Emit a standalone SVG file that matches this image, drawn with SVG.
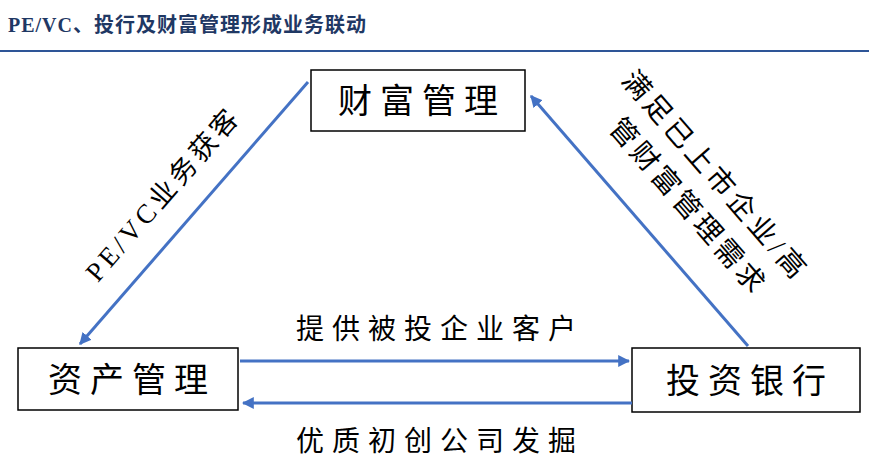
<svg xmlns="http://www.w3.org/2000/svg" width="869" height="471" viewBox="0 0 869 471">
<style>
.t{font-family:"Liberation Serif","Noto Sans CJK SC",serif;fill:#000}
.box{fill:#fff;stroke:#000;stroke-width:1.5}
.c{stroke:#4472C4;stroke-width:3;fill:none;marker-end:url(#a)}
</style>
<defs><marker id="a" viewBox="0 0 10 10" refX="9" refY="5" markerWidth="4" markerHeight="4" orient="auto"><path d="M0,0L10,5L0,10z" fill="#4472C4"/></marker></defs>
<rect width="869" height="471" fill="#fff"/>
<text x="8" y="32" class="t" style="font-size:20px;font-weight:bold;fill:#1F3864;letter-spacing:1px">PE/VC、投行及财富管理形成业务联动</text>
<line x1="0" y1="51" x2="869" y2="51" stroke="#2E5597" stroke-width="2"/>
<g id="n1"><rect class="box" x="311" y="70" width="214" height="61"/><text class="t" x="422" y="113" text-anchor="middle" font-size="34" letter-spacing="8">财富管理</text></g>
<g id="n2"><rect class="box" x="18" y="348" width="220" height="62"/><text class="t" x="132" y="392" text-anchor="middle" font-size="34" letter-spacing="8">资产管理</text></g>
<g id="n3"><rect class="box" x="632" y="348" width="228" height="64"/><text class="t" x="750" y="393" text-anchor="middle" font-size="34" letter-spacing="8">投资银行</text></g>
<g id="connectors">
<line class="c" x1="308" y1="82" x2="80" y2="344"/>
<line class="c" x1="748" y1="346" x2="531" y2="96"/>
<line class="c" x1="240" y1="361" x2="629" y2="361"/>
<line class="c" x1="632" y1="403" x2="243" y2="403"/>
</g>
<text class="t" font-size="27" letter-spacing="4" text-anchor="middle" transform="translate(170,200) rotate(-49)">PE/VC业务获客</text>
<text class="t" font-size="28" letter-spacing="4" text-anchor="middle" transform="translate(708,182) rotate(49)">满足已上市企业/高</text>
<text class="t" font-size="28" letter-spacing="4" text-anchor="middle" transform="translate(681,213) rotate(49)">管财富管理需求</text>
<text class="t" font-size="28" letter-spacing="8" x="440" y="339" text-anchor="middle">提供被投企业客户</text>
<text class="t" font-size="28" letter-spacing="8" x="440" y="451" text-anchor="middle">优质初创公司发掘</text>
</svg>
